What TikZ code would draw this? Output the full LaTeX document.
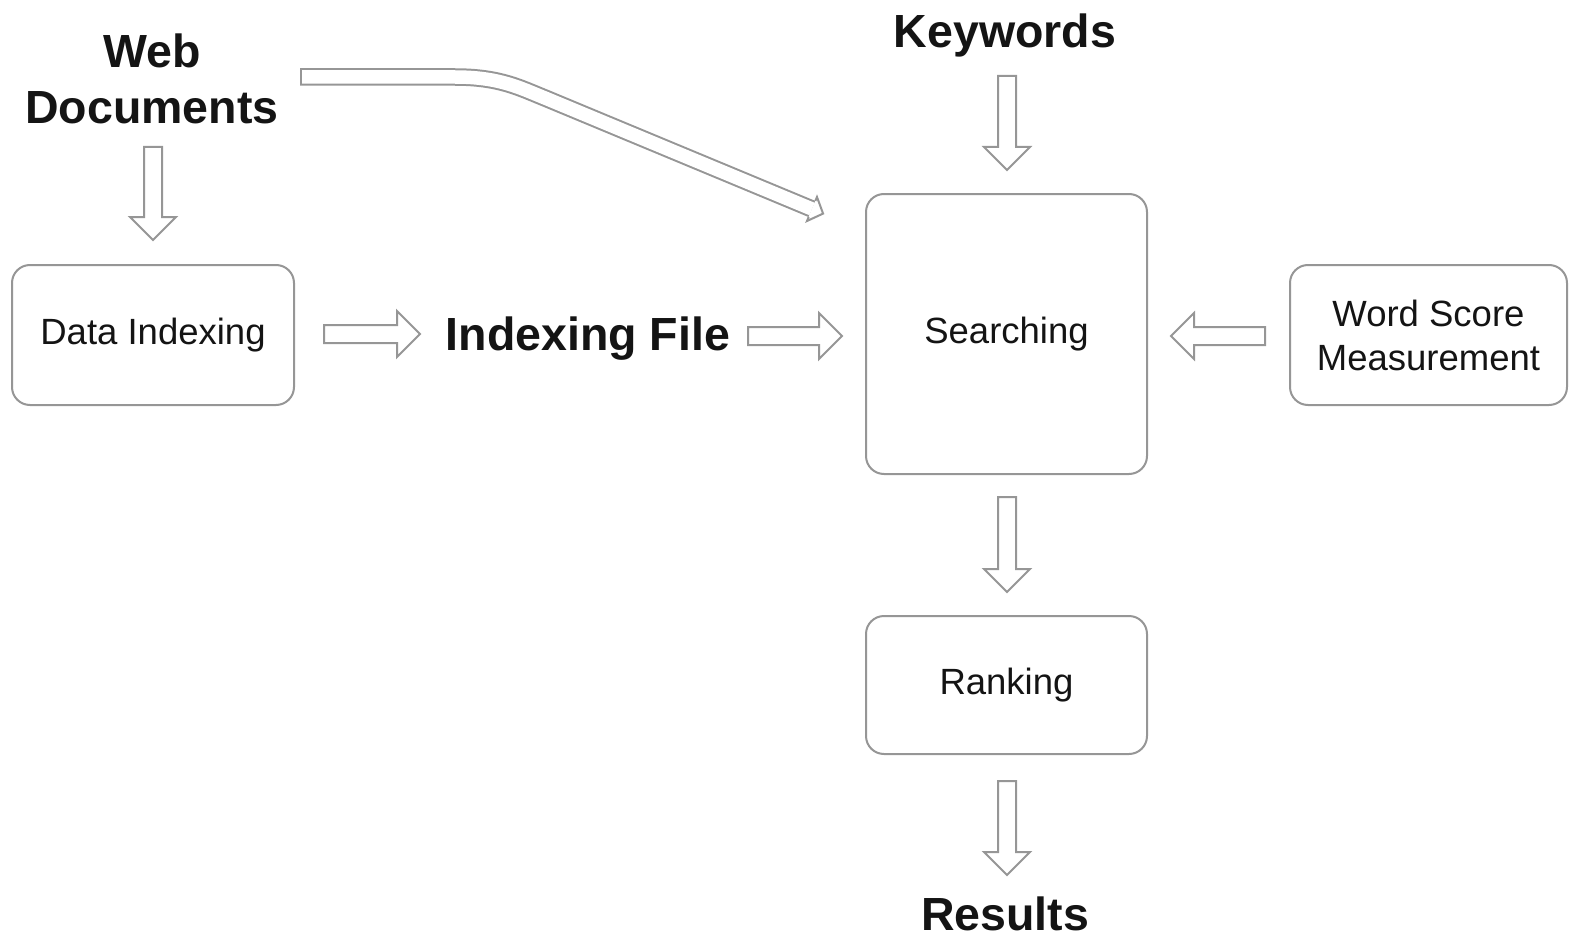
\documentclass[tikz,border=0pt]{standalone}
\usepackage{fontspec}
\setmainfont{Liberation Sans}
\usetikzlibrary{calc}
\definecolor{edge}{RGB}{150,150,150}
\definecolor{ink}{RGB}{20,20,20}

% hollow block arrow between two named points
\newcommand\blockarrow[2]{%
  \path[draw=edge,line width=2pt,fill=white,line join=miter]
    let \p1=(#1),\p2=(#2),
        \n1={atan2(\y2-\y1,\x2-\x1)},
        \n2={veclen(\x2-\x1,\y2-\y1)} in
    [shift={(\p1)},rotate=\n1]
    (0,9) -- ({\n2-23},9) -- ({\n2-23},23) -- (\n2,0)
    -- ({\n2-23},-23) -- ({\n2-23},-9) -- (0,-9) -- cycle;}

\tikzset{
  box/.style={draw=edge,line width=2pt,rounded corners=18pt,fill=white,
    align=center,text=ink,font=\fontsize{36.5}{44}\selectfont},
  label/.style={align=center,text=ink,
    font=\fontsize{46.5}{56}\selectfont\bfseries},
}

\begin{document}
\begin{tikzpicture}[x=1pt,y=-1pt]
\useasboundingbox (0,0) rectangle (1572,939);

% process boxes
\node[box,minimum width=282pt,minimum height=140pt] (di) at (153,335) {Data Indexing};
\node[box,minimum width=281pt,minimum height=280pt] (se) at (1006.5,334) {Searching};
\node[box,minimum width=277pt,minimum height=140pt] (ws) at (1428.5,335) {Word Score\\Measurement};
\node[box,minimum width=281pt,minimum height=138pt] (rk) at (1006.5,685) {Ranking};

% free-standing labels
\node[label] (web) at (152,79) {Web\\Documents};
\node[label] (kw) at (1005,35) {Keywords};
\node[label] (ifile) at (588,339) {Indexing File};
\node[label] (res) at (1005,914) {Results};

% arrow end points
\coordinate (a1) at (153,147);  \coordinate (b1) at (153,240);
\coordinate (a2) at (324,334);  \coordinate (b2) at (420,334);
\coordinate (a3) at (748,336);  \coordinate (b3) at (842,336);
\coordinate (a4) at (1007,76);  \coordinate (b4) at (1007,170);
\coordinate (a5) at (1265,336); \coordinate (b5) at (1171,336);
\coordinate (a6) at (1007,497); \coordinate (b6) at (1007,592);
\coordinate (a7) at (1007,781); \coordinate (b7) at (1007,875);

\blockarrow{a1}{b1}
\blockarrow{a2}{b2}
\blockarrow{a3}{b3}
\blockarrow{a4}{b4}
\blockarrow{a5}{b5}
\blockarrow{a6}{b6}
\blockarrow{a7}{b7}

% long bent arrow from the web documents to searching
\coordinate (c0) at (300,77);
\coordinate (c1) at (455,77);
\coordinate (cb) at (545,98);
\coordinate (c2) at (812,209);
\draw[edge,line width=17.5pt] (c0) -- (c1) .. controls (500,77) and (520,88) .. (cb) -- (c2);
\draw[white,line width=13.5pt,shorten <=2pt] (c0) -- (c1) .. controls (500,77) and (520,88) .. (cb) -- (c2);
\path[fill=white]
  let \p1=(cb),\p2=(c2),\n1={atan2(\y2-\y1,\x2-\x1)} in
  [shift={(\p2)},rotate=\n1] (0,-13) -- (12,0) -- (0,13) -- cycle;
\draw[edge,line width=2pt,line join=miter]
  let \p1=(cb),\p2=(c2),\n1={atan2(\y2-\y1,\x2-\x1)} in
  [shift={(\p2)},rotate=\n1] (0,-8.75) -- (0,-13) -- (12,0) -- (0,13) -- (0,8.75);
\end{tikzpicture}
\end{document}
